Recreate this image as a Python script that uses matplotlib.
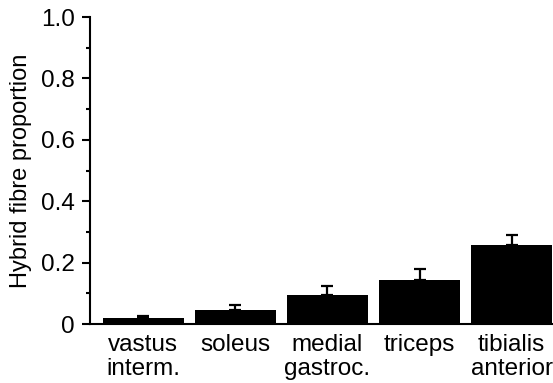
import numpy as np
import matplotlib.pyplot as plt
from matplotlib.ticker import MultipleLocator

muscles = ["vastus\ninterm.", "soleus", "medial\ngastroc.", "triceps", "tibialis\nanterior"]
proportion = [0.020, 0.047, 0.095, 0.144, 0.258]
sem = [0.006, 0.015, 0.029, 0.034, 0.031]

plt.rcParams['font.family'] = ['Liberation Sans', 'DejaVu Sans']

fig = plt.figure(figsize=(5.53, 3.83), dpi=100)
ax = fig.add_axes([0.1627, 0.154, 0.8373, 0.8016])

x = np.arange(len(muscles))
ax.bar(x, proportion, width=0.875, color='black', zorder=2)
ax.errorbar(x, proportion, yerr=[np.zeros(len(sem)), sem], fmt='none',
            ecolor='black', elinewidth=1.6, capsize=4.5, capthick=1.6, zorder=3)

ax.set_xlim(-0.58, 4.45)
ax.set_ylim(0, 1.0)
ax.set_xticks(x)
ax.set_xticklabels(muscles, fontsize=17.5, linespacing=1.12)
ax.yaxis.set_minor_locator(MultipleLocator(0.1))
ax.set_yticks([0, 0.2, 0.4, 0.6, 0.8, 1.0])
ax.set_yticklabels(["0", "0.2", "0.4", "0.6", "0.8", "1.0"], fontsize=17.5)
ax.set_ylabel("Hybrid fibre proportion", fontsize=17, labelpad=6)

for s in ['top', 'right']:
    ax.spines[s].set_visible(False)
for s in ['left', 'bottom']:
    ax.spines[s].set_linewidth(1.5)
ax.tick_params(axis='x', length=0, pad=7)
ax.tick_params(axis='y', which='major', length=6, width=1.5, pad=5)
ax.tick_params(axis='y', which='minor', length=3, width=1.5)

fig.savefig("out.png", dpi=100)
